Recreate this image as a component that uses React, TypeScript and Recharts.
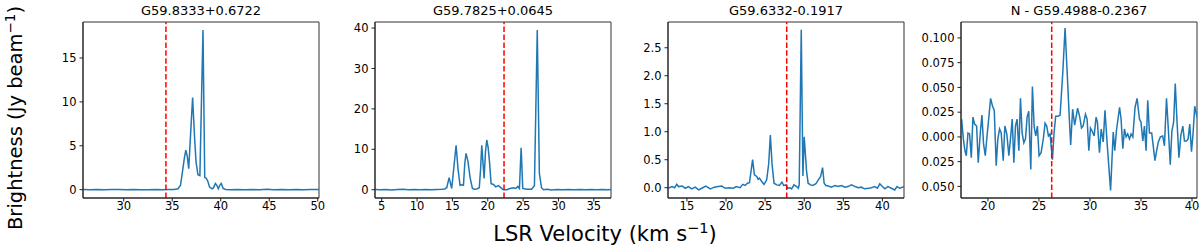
import React from 'react';
import { LineChart, Line, XAxis, YAxis, ReferenceLine, ReferenceArea } from 'recharts';

// panel titles and the dashed systemic velocity markers
const titles = ['G59.8333+0.6722', 'G59.7825+0.0645', 'G59.6332-0.1917', 'N - G59.4988-0.2367'];
const systemicVel = [34.35, 22.3, 27.76, 26.25];

// G59.8333+0.6722
const vel1 = [25.8, 26.5, 27.2, 28.0, 28.7, 29.5, 30.3, 31.0, 31.8, 32.5, 33.3, 34.0, 34.7, 35.2, 35.6, 35.85, 36.05, 36.25, 36.4, 36.55, 36.7, 36.9, 37.1, 37.3, 37.45, 37.65, 37.85, 38.17, 38.35, 38.5, 38.65, 38.85, 39.1, 39.25, 39.45, 39.6, 39.75, 39.9, 40.05, 40.25, 40.5, 41.0, 41.7, 42.5, 43.2, 44.0, 44.8, 45.5, 46.3, 47.0, 47.8, 48.5, 49.3, 50.13];
const flux1 = [0.02, 0.0, 0.03, -0.02, 0.01, 0.03, -0.01, 0.02, 0.0, -0.02, 0.02, 0.0, 0.03, 0.02, 0.1, 0.5, 2.0, 3.6, 4.5, 3.8, 2.4, 6.5, 10.5, 6.0, 3.2, 1.7, 1.6, 18.2, 1.4, 1.3, 1.0, 0.3, 0.1, 0.2, 0.7, 0.5, 0.1, 0.5, 0.7, 0.15, 0.02, 0.0, 0.03, -0.02, 0.02, 0.0, 0.04, -0.01, 0.02, 0.0, 0.03, -0.02, 0.02, 0.01];

// G59.7825+0.0645
const vel2 = [4.05, 4.8, 5.6, 6.4, 7.2, 8.0, 8.8, 9.6, 10.4, 11.2, 12.0, 12.8, 13.5, 13.9, 14.2, 14.53, 14.9, 15.2, 15.52, 15.8, 16.08, 16.35, 16.56, 16.75, 16.93, 17.2, 17.5, 17.83, 18.1, 18.44, 18.8, 18.98, 19.15, 19.48, 19.68, 19.86, 20.05, 20.24, 20.47, 20.8, 21.13, 21.5, 21.84, 22.2, 22.7, 23.16, 23.63, 23.96, 24.25, 24.48, 24.72, 24.95, 25.5, 26.2, 26.6, 27.0, 27.3, 27.6, 27.88, 28.4, 29.0, 29.8, 30.6, 31.4, 32.2, 33.0, 33.8, 34.6, 35.4, 36.2, 37.0, 37.43];
const flux2 = [0.05, 0.0, 0.08, -0.05, 0.03, 0.1, -0.02, 0.05, 0.0, 0.08, -0.03, 0.05, 0.1, 0.2, 0.5, 3.0, 0.3, 5.5, 11.0, 5.0, 1.1, 1.2, 1.1, 6.5, 9.0, 7.0, 3.0, 0.3, 0.1, 0.2, 0.5, 5.0, 11.0, 2.8, 9.5, 12.3, 10.5, 7.0, 1.5, 1.3, 0.7, 1.0, 0.5, 0.0, 0.0, 0.3, 0.5, 0.3, 0.8, 0.3, 10.4, 0.3, 0.1, 0.1, 1.0, 39.5, 4.0, 0.5, 0.0, 0.1, -0.05, 0.05, 0.0, 0.08, -0.03, 0.05, 0.0, 0.06, -0.02, 0.04, 0.0, 0.03];

// G59.6332-0.1917
const vel3 = [12.6, 13.1, 13.43, 13.7, 13.94, 14.4, 14.8, 15.2, 15.6, 16.06, 16.5, 16.9, 17.4, 18.0, 18.5, 19.0, 19.46, 19.9, 20.44, 20.95, 21.3, 21.8, 22.14, 22.44, 22.74, 23.0, 23.4, 23.63, 23.93, 24.1, 24.27, 24.57, 24.86, 25.2, 25.46, 25.67, 25.88, 26.14, 26.48, 26.82, 27.16, 27.37, 27.67, 27.88, 28.18, 28.39, 28.69, 29.03, 29.24, 29.36, 29.62, 29.83, 30.0, 30.3, 30.5, 30.8, 31.1, 31.5, 31.8, 32.1, 32.35, 32.55, 32.77, 33.07, 33.5, 33.9, 34.35, 34.77, 35.2, 35.6, 36.05, 36.5, 36.9, 37.3, 37.7, 38.2, 38.6, 39.0, 39.36, 39.66, 40.0, 40.3, 40.7, 41.15, 41.57, 41.87, 42.2, 42.76];
const flux3 = [-0.01, 0.02, 0.0, 0.06, 0.02, 0.03, -0.01, 0.02, -0.02, 0.01, -0.04, -0.01, 0.03, -0.02, 0.01, 0.02, 0.03, -0.01, 0.0, -0.01, 0.02, 0.0, 0.06, 0.04, 0.08, 0.09, 0.5, 0.23, 0.2, 0.15, 0.17, 0.11, 0.06, 0.14, 0.43, 0.94, 0.43, 0.08, 0.05, 0.04, 0.1, 0.04, 0.05, -0.01, 0.0, -0.02, 0.05, 0.02, -0.01, 0.05, 2.82, 0.21, 0.91, 0.29, 0.08, 0.05, 0.04, 0.07, 0.14, 0.2, 0.36, 0.08, 0.04, 0.03, 0.01, 0.04, 0.02, 0.04, 0.01, 0.02, 0.05, 0.02, 0.0, 0.01, -0.02, -0.01, 0.0, 0.02, -0.01, 0.07, 0.02, -0.02, 0.02, -0.01, -0.04, 0.02, -0.01, 0.02];

// N - G59.4988-0.2367
const vel4 = [17.42, 17.59, 17.75, 17.88, 18.04, 18.2, 18.37, 18.53, 18.69, 18.89, 19.05, 19.25, 19.41, 19.57, 19.74, 19.93, 20.1, 20.26, 20.45, 20.62, 20.81, 20.97, 21.14, 21.3, 21.5, 21.66, 21.85, 22.05, 22.21, 22.38, 22.54, 22.7, 22.86, 23.03, 23.19, 23.35, 23.52, 23.68, 23.84, 24.0, 24.2, 24.36, 24.53, 24.69, 24.85, 25.01, 25.21, 25.44, 25.6, 25.76, 25.93, 26.09, 26.32, 26.48, 26.64, 26.87, 27.07, 27.33, 27.56, 27.78, 27.98, 28.11, 28.3, 28.5, 28.79, 29.0, 29.17, 29.33, 29.56, 29.72, 29.89, 30.05, 30.21, 30.41, 30.6, 30.73, 30.93, 31.1, 31.3, 31.47, 31.7, 32.02, 32.28, 32.43, 32.6, 32.9, 33.05, 33.22, 33.38, 33.54, 33.7, 33.87, 34.03, 34.2, 34.42, 34.62, 34.85, 35.0, 35.18, 35.34, 35.5, 35.66, 35.83, 36.05, 36.2, 36.37, 36.53, 36.7, 36.9, 37.13, 37.3, 37.5, 37.68, 37.87, 38.03, 38.2, 38.36, 38.52, 38.72, 38.9, 39.1, 39.26, 39.46, 39.62, 39.78, 39.95, 40.1, 40.27, 40.49];
const flux4 = [0.018, -0.002, -0.014, -0.019, 0.004, 0.003, -0.021, 0.02, 0.013, 0.011, -0.026, 0.004, 0.022, -0.007, -0.019, 0.003, 0.021, 0.039, 0.031, 0.027, -0.029, -0.002, 0.008, 0.004, -0.024, 0.011, 0.003, -0.019, -0.002, 0.018, -0.026, 0.011, 0.018, -0.014, 0.039, 0.004, -0.006, -0.002, 0.02, 0.026, -0.033, 0.051, 0.01, 0.001, 0.011, -0.019, -0.016, -0.001, 0.014, 0.011, 0.001, 0.003, -0.023, 0.004, 0.021, 0.021, 0.022, 0.064, 0.11, 0.062, 0.018, -0.008, 0.028, 0.012, 0.029, 0.02, 0.009, 0.011, 0.023, 0.018, -0.014, 0.009, 0.006, 0.001, 0.02, 0.015, -0.016, 0.008, -0.005, 0.027, -0.009, -0.054, 0.005, -0.014, 0.007, 0.03, 0.018, -0.012, 0.008, 0.0, 0.003, -0.002, 0.003, 0.0, 0.03, 0.039, 0.018, 0.015, -0.004, 0.011, -0.014, 0.037, 0.004, 0.004, -0.009, -0.024, -0.014, -0.005, 0.0, 0.001, -0.009, 0.039, 0.008, -0.028, 0.006, 0.015, 0.054, 0.018, -0.021, 0.001, 0.011, -0.004, -0.004, -0.002, 0.013, -0.015, 0.003, 0.031, 0.02];

const xTicks1 = [30, 35, 40, 45, 50];
const yTicks1 = [0, 5, 10, 15];
const xTicks2 = [5, 10, 15, 20, 25, 30, 35];
const yTicks2 = [0, 10, 20, 30, 40];
const xTicks3 = [15, 20, 25, 30, 35, 40];
const yTicks3 = [0, 0.5, 1, 1.5, 2, 2.5];
const xTicks4 = [20, 25, 30, 35, 40];
const yTicks4 = [-0.05, -0.025, 0, 0.025, 0.05, 0.075, 0.1];

const toRows = (vel: number[], flux: number[]) => vel.map((v, i) => ({ v, f: flux[i] }));

const panels = [
  { rows: toRows(vel1, flux1), xDomain: [25.8, 50.13], yDomain: [-0.95, 19.1], xTicks: xTicks1, yTicks: yTicks1, fmt: (t: number) => String(t), left: 83 },
  { rows: toRows(vel2, flux2), xDomain: [4.05, 37.43], yDomain: [-2.05, 41.5], xTicks: xTicks2, yTicks: yTicks2, fmt: (t: number) => String(t), left: 375 },
  { rows: toRows(vel3, flux3), xDomain: [12.58, 42.76], yDomain: [-0.184, 2.96], xTicks: xTicks3, yTicks: yTicks3, fmt: (t: number) => t.toFixed(1), left: 668 },
  { rows: toRows(vel4, flux4), xDomain: [17.36, 40.49], yDomain: [-0.0617, 0.1161], xTicks: xTicks4, yTicks: yTicks4, fmt: (t: number) => Math.abs(t).toFixed(3), left: 961 },
];

const Y_AXIS_W = 50;
const PLOT_W = 236;
const RIGHT_PAD = 14;
const tickStyle = { fontSize: 11.5, fill: '#000', fontFamily: 'DejaVu Sans' };

export default function App() {
  return (
    <div style={{ position: 'absolute', left: 0, top: 0, width: 1200, height: 250, background: '#fff', fontFamily: 'DejaVu Sans', overflow: 'hidden' }}>
      {panels.map((p, i) => (
        <div key={i} style={{ position: 'absolute', left: p.left - Y_AXIS_W, top: 0 }}>
          <div style={{ position: 'absolute', left: Y_AXIS_W, top: 3, width: PLOT_W, textAlign: 'center', fontSize: 13, lineHeight: '16px', color: '#000' }}>
            {titles[i]}
          </div>
          <LineChart width={Y_AXIS_W + PLOT_W + RIGHT_PAD} height={228} data={p.rows} margin={{ top: 22, right: RIGHT_PAD, bottom: 0, left: 0 }}>
            <XAxis dataKey="v" type="number" domain={p.xDomain} allowDataOverflow ticks={p.xTicks} tick={tickStyle} tickSize={3.5} tickMargin={0} height={30} stroke="#222" interval={0} />
            <YAxis type="number" domain={p.yDomain} allowDataOverflow ticks={p.yTicks} tickFormatter={p.fmt} tick={tickStyle} tickSize={3.5} tickMargin={3} width={Y_AXIS_W} stroke="#222" interval={0} />
            <ReferenceArea x1={p.xDomain[0]} x2={p.xDomain[1]} y1={p.yDomain[0]} y2={p.yDomain[1]} fill="none" fillOpacity={0} stroke="#333" strokeWidth={1} />
            <Line dataKey="f" type="linear" stroke="#1f77b4" strokeWidth={1.5} dot={false} isAnimationActive={false} />
            <ReferenceLine x={systemicVel[i]} stroke="#ff0000" strokeWidth={1.5} strokeDasharray="5.5 2.4" />
          </LineChart>
        </div>
      ))}
      <div style={{ position: 'absolute', left: 16 - 125, top: 118 - 12, width: 250, height: 24, lineHeight: '24px', textAlign: 'center', fontSize: 19.5, transform: 'rotate(-90deg)', color: '#000', whiteSpace: 'nowrap' }}>
        Brightness (Jy beam<sup style={{ fontSize: 13.5, lineHeight: 0 }}>−1</sup>)
      </div>
      <div style={{ position: 'absolute', left: 455, top: 221, width: 300, textAlign: 'center', fontSize: 21, lineHeight: '26px', color: '#000', whiteSpace: 'nowrap' }}>
        LSR Velocity (km s<sup style={{ fontSize: 14.5, lineHeight: 0 }}>−1</sup>)
      </div>
    </div>
  );
}
